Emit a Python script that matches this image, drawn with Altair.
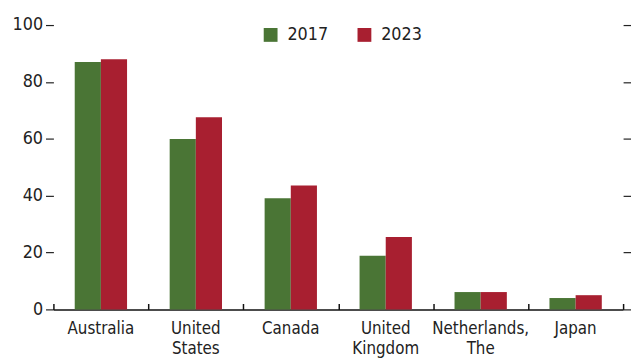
import altair as alt
import pandas as pd

countries = ["Australia", "United States", "Canada", "United Kingdom", "Netherlands, The", "Japan"]
years = ["2017", "2023"]
values_2017 = [87.0, 59.9, 39.1, 18.9, 6.1, 4.0]
values_2023 = [88.0, 67.6, 43.6, 25.5, 6.1, 5.0]
y_ticks = [0, 20, 40, 60, 80, 100]
colors = ["#4A7535", "#A81F30"]

rows = []
for c, a, b in zip(countries, values_2017, values_2023):
    rows.append({"country": c, "year": years[0], "value": a})
    rows.append({"country": c, "year": years[1], "value": b})
df = pd.DataFrame(rows)

FONT = "DejaVu Sans Condensed, DejaVu Sans, sans-serif"
W, H = 577, 288

x_scale = alt.Scale(domain=countries, paddingInner=0, paddingOuter=0)
off_scale = alt.Scale(domain=years, paddingInner=0, paddingOuter=0.8146)
y_scale = alt.Scale(domain=[0, 100], nice=False)

bars = alt.Chart(df).mark_bar().encode(
    x=alt.X("country:N", sort=countries, scale=x_scale, title=None,
            axis=alt.Axis(orient="bottom", labelAngle=0, ticks=False, tickSize=0,
                          labelPadding=11, labelFont=FONT, labelFontSize=17,
                          labelColor="#222222", labelLineHeight=21,
                          labelExpr="split(datum.label, ' ')", labelBaseline="top",
                          domainColor="#111111", domainWidth=1.5, grid=False)),
    xOffset=alt.XOffset("year:N", scale=off_scale),
    y=alt.Y("value:Q", scale=y_scale, title=None,
            axis=alt.Axis(orient="left", values=y_ticks, domain=False, grid=False,
                          tickSize=8, tickColor="#222222", tickWidth=1.2,
                          labelPadding=3, labelFont=FONT, labelFontSize=18,
                          labelColor="#222222")),
    color=alt.Color("year:N", scale=alt.Scale(domain=years, range=colors), title=None,
                    legend=alt.Legend(orient="none", direction="horizontal",
                                      legendX=211, legendY=1, symbolType="square",
                                      symbolSize=196, symbolStrokeWidth=0,
                                      symbolOpacity=1, labelFont=FONT,
                                      labelFontSize=18, labelColor="#222222",
                                      labelOffset=8, columnPadding=27, padding=0)),
)

frame = alt.Chart(df).mark_bar(opacity=0).encode(
    x=alt.X("country:N", sort=countries, scale=x_scale, title=None,
            axis=alt.Axis(orient="top", offset=-H, labels=False, domain=False,
                          tickBand="extent", tickSize=6, tickColor="#111111",
                          tickWidth=1.5, grid=False, zindex=1)),
    xOffset=alt.XOffset("year:N", scale=off_scale),
    y=alt.Y("value:Q", scale=y_scale, title=None,
            axis=alt.Axis(orient="right", values=y_ticks, domain=False, grid=False,
                          labels=False, tickSize=8, tickColor="#222222",
                          tickWidth=1.2)),
)

chart = alt.layer(bars, frame).resolve_axis(x="independent", y="independent").properties(
    width=W, height=H,
    autosize=alt.AutoSizeParams(type="none"),
    padding={"left": 46, "top": 15, "right": 8, "bottom": 51},
    background="white",
).configure_view(stroke=None)

chart.save("out.html", embed_options={"renderer": "svg", "actions": False})
